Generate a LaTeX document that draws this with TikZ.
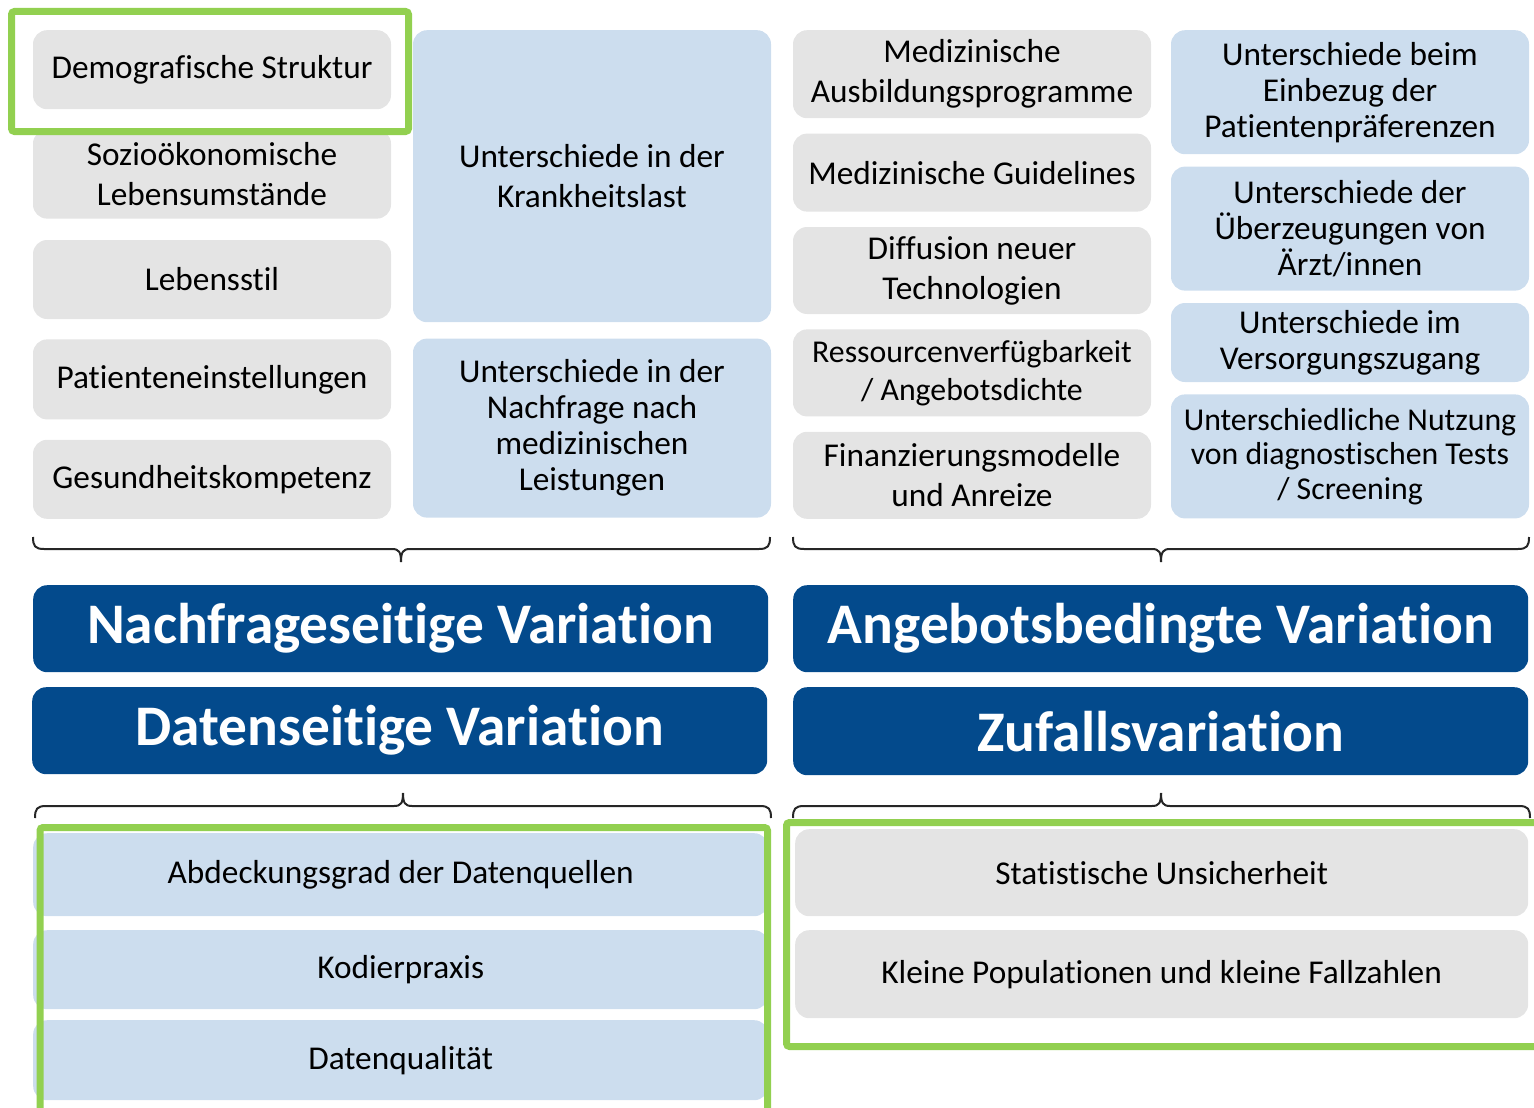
\documentclass[tikz,border=0pt]{standalone}
\usepackage{fontspec}
\setmainfont{Carlito}[Ligatures=NoCommon]
\usetikzlibrary{positioning}
\definecolor{greybox}{HTML}{E4E4E4}
\definecolor{bluebox}{HTML}{CCDDEE}
\definecolor{navy}{HTML}{034A8C}
\definecolor{frame}{HTML}{92D050}
% brace with tip pointing down: left x, tip x, right x, top y
\newcommand{\bracedown}[4]{%
  \draw[brace line] (#1,#4) .. controls (#1,#4+9) and (#1+2,#4+12) .. (#1+11,#4+12)
    -- (#2-9,#4+12) .. controls (#2-2,#4+12) and (#2,#4+15) .. (#2,#4+25);
  \draw[brace line] (#3,#4) .. controls (#3,#4+9) and (#3-2,#4+12) .. (#3-11,#4+12)
    -- (#2+9,#4+12) .. controls (#2+2,#4+12) and (#2,#4+15) .. (#2,#4+25);}
% brace with tip pointing up: left x, tip x, right x, bottom y
\newcommand{\braceup}[4]{%
  \draw[brace line] (#1,#4) .. controls (#1,#4-9) and (#1+2,#4-12) .. (#1+11,#4-12)
    -- (#2-9,#4-12) .. controls (#2-2,#4-12) and (#2,#4-15) .. (#2,#4-25);
  \draw[brace line] (#3,#4) .. controls (#3,#4-9) and (#3-2,#4-12) .. (#3-11,#4-12)
    -- (#2+9,#4-12) .. controls (#2+2,#4-12) and (#2,#4-15) .. (#2,#4-25);}
\tikzset{
  cell/.style={rectangle, rounded corners=14pt, minimum width=358pt,
               align=center, inner sep=0pt, text=black,
               font=\fontsize{33.3}{40}\selectfont},
  gcell/.style={cell, fill=greybox},
  bcell/.style={cell, fill=bluebox},
  tight/.style={font=\fontsize{33.3}{36}\selectfont},
  shrunk/.style={font=\fontsize{31.8}{#1}\selectfont},
  head/.style={rectangle, rounded corners=14pt, fill=navy, text=white,
               minimum width=735pt, minimum height=87pt, inner sep=0pt,
               anchor=north west, font=\fontsize{57.4}{66}\selectfont\bfseries},
  hilite/.style={draw=frame, line width=7pt, rounded corners=3pt},
  brace line/.style={draw=black!85, line width=2pt},
}
\begin{document}
\begin{tikzpicture}[x=1pt, y=-1pt]
  \useasboundingbox (0,0) rectangle (1534,1108);

  %% Column 1: demand factors
  \node[gcell, anchor=north, minimum height=79pt] (demo) at (212,30) {Demografische Struktur};
  \node[gcell, below=20pt of demo, minimum height=89pt] (sozio) {Sozioökonomische\\Lebensumstände};
  \node[gcell, below=21pt of sozio, minimum height=79pt] (stil) {Lebensstil};
  \node[gcell, below=20pt of stil, minimum height=80pt] (einst) {Patienteneinstellungen};
  \node[gcell, below=20pt of einst, minimum height=79pt] (kompetenz) {Gesundheitskompetenz};

  %% Column 2: demand differences
  \node[bcell, anchor=north, minimum height=292pt] (krank) at (592,30) {Unterschiede in der\\Krankheitslast};
  \node[bcell, tight, below=16pt of krank, minimum height=179pt] (nachfr)
        {Unterschiede in der\\Nachfrage nach\\medizinischen\\Leistungen};

  %% Column 3: supply factors
  \node[gcell, anchor=north, minimum height=88pt] (ausbild) at (972,30) {Medizinische\\Ausbildungsprogramme};
  \node[gcell, below=15pt of ausbild, minimum height=78pt] (guide) {Medizinische Guidelines};
  \node[gcell, below=15pt of guide, minimum height=87pt] (diffus) {Diffusion neuer\\Technologien};
  \node[gcell, shrunk=38, below=15pt of diffus, minimum height=87pt] (ressource)
        {Ressourcenverfügbarkeit\\/ Angebotsdichte};
  \node[gcell, below=15pt of ressource, minimum height=87pt] (finanz) {Finanzierungsmodelle\\und Anreize};

  %% Column 4: supply differences
  \node[bcell, tight, anchor=north, minimum height=124pt] (praef) at (1350,30)
        {Unterschiede beim\\Einbezug der\\Patientenpräferenzen};
  \node[bcell, tight, below=12pt of praef, minimum height=124pt] (ueberz)
        {Unterschiede der\\Überzeugungen von\\Ärzt/innen};
  \node[bcell, tight, below=12pt of ueberz, minimum height=79pt] (zugang)
        {Unterschiede im\\Versorgungszugang};
  \node[bcell, shrunk=34.5, below=12pt of zugang, minimum height=124pt] (tests)
        {Unterschiedliche Nutzung\\von diagnostischen Tests\\/ Screening};

  %% Braces above the headings
  \bracedown{33}{401}{770}{537}
  \bracedown{793}{1161}{1529}{537}

  %% Headings
  \node[head] (demand) at (33,585) {Nachfrageseitige Variation};
  \node[head] (supply) at (793,585) {Angebotsbedingte Variation};
  \node[head] (datav)  at (32,687) {Datenseitige Variation};
  \node[head, minimum height=88pt] (chance) at (793,687) {Zufallsvariation};

  %% Braces below the headings
  \braceup{35}{403}{771}{818}
  \braceup{793}{1161}{1530}{818}

  %% Data and chance factors
  \node[bcell, anchor=north west, minimum width=735pt, minimum height=83pt] (abdeck) at (33,833)
        {Abdeckungsgrad der Datenquellen};
  \node[bcell, anchor=north west, minimum width=735pt, minimum height=79pt] (kodier) at (33,930)
        {Kodierpraxis};
  \node[bcell, anchor=north west, minimum width=735pt, minimum height=80pt] (qual) at (33,1020)
        {Datenqualität};
  \node[gcell, anchor=north west, minimum width=733pt, minimum height=87pt] (stat) at (795,829)
        {Statistische Unsicherheit};
  \node[gcell, anchor=north west, minimum width=733pt, minimum height=88pt] (klein) at (795,930)
        {Kleine Populationen und kleine Fallzahlen};

  %% Green highlight frames
  \draw[hilite] (11.5,11.5) rectangle (408.5,131.5);
  \draw[hilite] (40,827.5) rectangle (767.5,1125);
  \draw[hilite] (786.5,822.5) rectangle (1550,1046.5);

\end{tikzpicture}
\end{document}
